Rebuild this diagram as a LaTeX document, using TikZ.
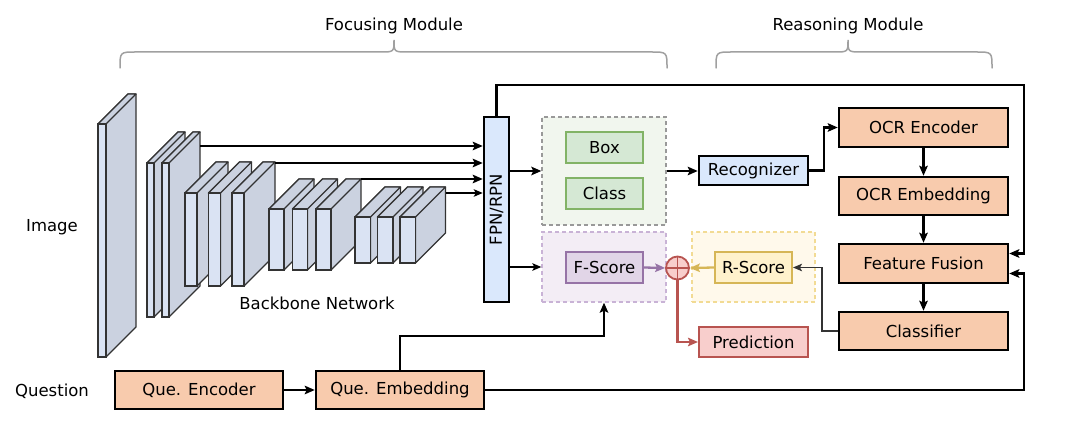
\documentclass[tikz,border=0pt]{standalone}
\usepackage{fontspec}
\setmainfont{DejaVu Sans}
\usetikzlibrary{arrows.meta,calc}
\definecolor{slabfront}{HTML}{DAE3F3}
\definecolor{slabside}{HTML}{CBD2E0}
\definecolor{slabline}{HTML}{333333}
\definecolor{bluefill}{HTML}{DAE8FC}
\definecolor{greenbg}{HTML}{F1F6EE}
\definecolor{greenfill}{HTML}{D5E8D4}
\definecolor{greenline}{HTML}{82B366}
\definecolor{purplebg}{HTML}{F3EDF5}
\definecolor{purpledash}{HTML}{C9B3D6}
\definecolor{purplefill}{HTML}{E1D5E7}
\definecolor{purpleline}{HTML}{9673A6}
\definecolor{yellowbg}{HTML}{FFF9EB}
\definecolor{yellowdash}{HTML}{F2DB94}
\definecolor{yellowfill}{HTML}{FFF2CC}
\definecolor{yellowline}{HTML}{D6B656}
\definecolor{redfill}{HTML}{F8CECC}
\definecolor{redline}{HTML}{B85450}
\definecolor{orangefill}{HTML}{F8CBAD}
\definecolor{bracegray}{HTML}{A0A0A0}
\newcommand{\cuboid}[5]{%
  \filldraw[fill=slabside,draw=slabline,line width=1.3pt,line join=round]
    (#1,#2) -- ++(#5,-#5) -- ++(#4,0) -- ($(#1+#4,#3)+(#5,-#5)$) -- (#1+#4,#3) -- (#1+#4,#2) -- cycle;
  \filldraw[fill=slabside,draw=slabline,line width=1.3pt,line join=round]
    (#1,#2) -- ++(#5,-#5) -- ++(#4,0) -- (#1+#4,#2) -- cycle;
  \filldraw[fill=slabfront,draw=slabline,line width=1.3pt]
    (#1,#2) rectangle (#1+#4,#3);
}
\begin{document}
\begin{tikzpicture}[x=1pt,y=-1pt,
  every node/.style={font=\fontsize{16.5}{18}\selectfont,inner sep=0pt},
  box/.style={draw=black,line width=2.5pt,minimum width=#1},
  box/.default=77pt,
  cbox/.style={box,line width=2pt,minimum height=31pt},
  orangebox/.style={box=169pt,fill=orangefill,minimum height=38pt},
  container/.style={line width=1.3pt,dash pattern=on 4pt off 3pt},
  arr/.style={line width=2.3pt,-{Stealth[length=10pt,width=8.5pt,inset=2pt]}},
  thinarr/.style={line width=1.5pt,-{Stealth[length=9pt,width=7.5pt,inset=2pt]}},
  bracestyle/.style={draw=bracegray,line width=1.5pt,line cap=round}
]
\useasboundingbox (0,0) rectangle (1086,422);

% braces and module titles
\node (focus) at (394,26) {Focusing Module};
\node (reason) at (848,26) {Reasoning Module};
\draw[bracestyle] (120,68) .. controls (120,52) .. (136,52) -- (380,52)
   .. controls (394,52) .. (394,40) .. controls (394,52) .. (408,52) -- (651,52)
   .. controls (667,52) .. (667,68);
\draw[bracestyle] (716,68) .. controls (716,52) .. (732,52) -- (834,52)
   .. controls (848,52) .. (848,40) .. controls (848,52) .. (862,52) -- (976,52)
   .. controls (992,52) .. (992,68);

% labels
\node (image) at (52,227) {Image};
\node (question) at (52,391) {Question};
\node (backbone) at (317,303) {Backbone Network};

% backbone slabs
\cuboid{98}{124}{357}{8}{30}
\cuboid{147}{163}{317}{7}{31}
\cuboid{162}{163}{317}{7}{31}
\cuboid{185}{193}{286}{12}{31}
\cuboid{208.5}{193}{286}{12}{31}
\cuboid{232}{193}{286}{12}{31}
\cuboid{269}{209}{270}{15}{30}
\cuboid{292.5}{209}{270}{15}{30}
\cuboid{316}{209}{270}{15}{30}
\cuboid{355}{217}{263}{15.5}{30}
\cuboid{377.5}{217}{263}{15.5}{30}
\cuboid{400}{217}{263}{15.5}{30}

% FPN
\node[box,fill=bluefill,minimum width=25pt,minimum height=185pt] (fpn) at (496.5,209.5) {};
\node[rotate=90] (fpntext) at (fpn.center) {FPN/RPN};

\coordinate (g2) at (200,146);
\coordinate (g3) at (275,163);
\coordinate (g4) at (361,179);
\coordinate (g5) at (446,193);
\draw[arr] (g2) -- (g2 -| fpn.west);
\draw[arr] (g3) -- (g3 -| fpn.west);
\draw[arr] (g4) -- (g4 -| fpn.west);
\draw[thinarr] (g5) -- (g5 -| fpn.west);

% containers
\node[container,draw=gray!80,fill=greenbg,minimum width=124pt,minimum height=108pt] (green) at (604,171) {};
\node[container,draw=purpledash,fill=purplebg,minimum width=124pt,minimum height=70pt] (purple) at (604,267) {};
\node[container,draw=yellowdash,fill=yellowbg,minimum width=123pt,minimum height=70pt] (yellow) at (753.5,267) {};

\node[cbox,draw=greenline,fill=greenfill] (boxn) at (604.5,147.5) {Box};
\node[cbox,draw=greenline,fill=greenfill] (classn) at (604.5,193.5) {Class};
\node[cbox,draw=purpleline,fill=purplefill] (fscore) at (604.5,267.5) {F-Score};
\node[cbox,draw=yellowline,fill=yellowfill] (rscore) at (753.5,267.5) {R-Score};
\node[box=109pt,fill=bluefill,minimum height=29pt] (recog) at (753.5,170.5) {Recognizer};
\node[box=109pt,draw=redline,fill=redfill,minimum height=30pt,line width=2pt] (pred) at (753.5,342) {Prediction};
\node[circle,draw=redline,fill=redfill,line width=1.8pt,minimum size=23pt] (plus) at (677.5,268) {};
\draw[redline,line width=1.8pt] (plus.north) -- (plus.south) (plus.west) -- (plus.east);

% reasoning boxes
\node[orangebox,minimum height=39pt] (ocrenc) at (923.5,127.5) {OCR Encoder};
\node[orangebox] (ocremb) at (923.5,196) {OCR Embedding};
\node[orangebox,minimum height=39pt] (fusion) at (923.5,263.5) {Feature Fusion};
\node[orangebox] (classifier) at (923.5,331) {Classifier};

% question boxes
\node[orangebox,minimum width=168pt] (queenc) at (199,390) {Que. Encoder};
\node[orangebox,minimum width=168pt] (queemb) at (400,390) {Que. Embedding};

% connectors
\draw[arr] (fpn.east |- green.west) -- (green.west);
\draw[thinarr] (fpn.east |- purple.west) -- (purple.west);
\draw[arr] (green.east) -- (green.east -| recog.west);
\draw[arr] (recog.east) -- ++(15,0) |- (ocrenc.west);
\draw[arr] (ocrenc) -- (ocremb);
\draw[arr] (ocremb) -- (fusion);
\draw[arr] (fusion) -- (classifier);
\draw[thinarr,draw=black!80] (classifier.west) -- ++(-16,0) |- (rscore.east);
\draw[arr,draw=purpleline] (fscore.east) -- (plus.west);
\draw[arr,draw=yellowline] (rscore.west) -- (plus.east);
\draw[arr,draw=redline] (plus.south) |- (pred.west);
\draw[arr] (queenc) -- (queemb);
\coordinate (qturn) at (604,336);
\draw[arr] (queemb.north) |- (qturn) -- (purple.south);
\coordinate (topright) at (1024,85);
\coordinate (botright) at (1024,390);
\draw[arr] (fpn.north) |- (topright) |- ([yshift=10pt]fusion.east);
\draw[arr] (queemb.east) -- (botright) |- ([yshift=-10pt]fusion.east);
\end{tikzpicture}
\end{document}
